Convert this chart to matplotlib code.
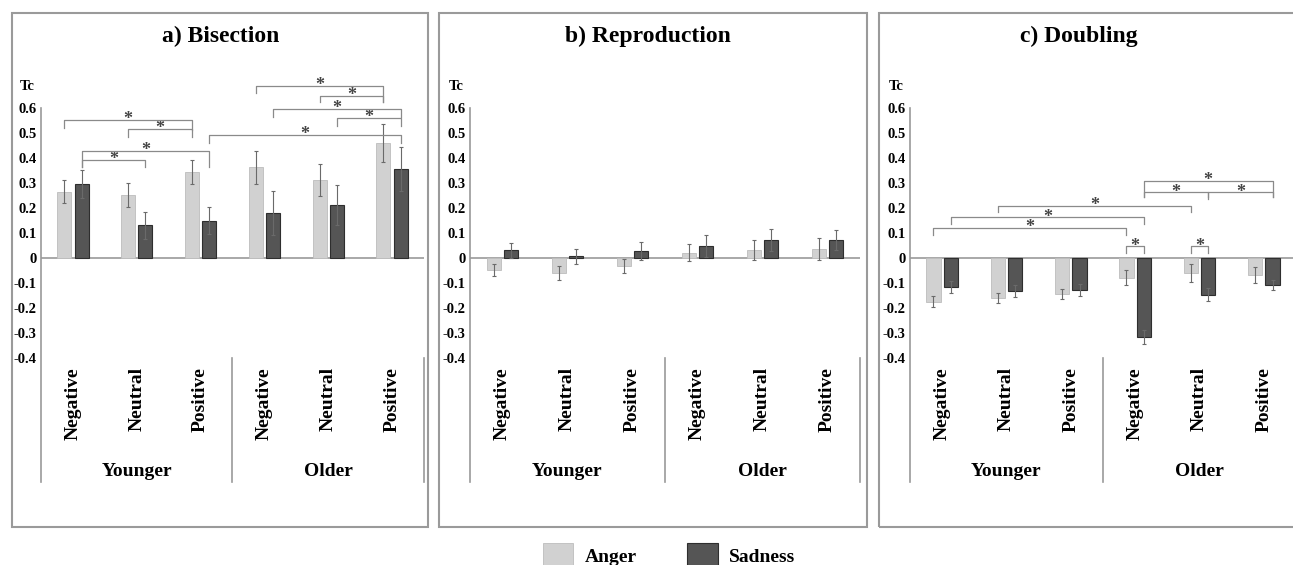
import matplotlib
matplotlib.use("Agg")
import matplotlib.pyplot as plt
from matplotlib.patches import Rectangle

plt.rcParams["font.family"] = ["Liberation Serif", "DejaVu Serif"]
plt.rcParams["font.weight"] = "bold"

W, H = 1293, 565

emotions = ["Negative", "Neutral", "Positive", "Negative", "Neutral", "Positive"]
ages = ["Younger", "Older"]
yticks = [0.6, 0.5, 0.4, 0.3, 0.2, 0.1, 0, -0.1, -0.2, -0.3, -0.4]
ytick_labels = ["0.6", "0.5", "0.4", "0.3", "0.2", "0.1", "0", "-0.1", "-0.2", "-0.3", "-0.4"]
titles = ["a) Bisection", "b) Reproduction", "c) Doubling"]

bisect_anger = [0.265, 0.252, 0.343, 0.363, 0.312, 0.459]
bisect_anger_err = [0.045, 0.047, 0.049, 0.066, 0.063, 0.076]
bisect_sad = [0.295, 0.131, 0.149, 0.181, 0.211, 0.356]
bisect_sad_err = [0.055, 0.054, 0.054, 0.088, 0.081, 0.089]

repro_anger = [-0.049, -0.060, -0.033, 0.021, 0.031, 0.034]
repro_anger_err = [0.024, 0.027, 0.027, 0.034, 0.040, 0.044]
repro_sad = [0.031, 0.007, 0.027, 0.047, 0.071, 0.071]
repro_sad_err = [0.030, 0.030, 0.035, 0.045, 0.045, 0.041]

doubl_anger = [-0.176, -0.159, -0.145, -0.079, -0.060, -0.069]
doubl_anger_err = [0.022, 0.020, 0.021, 0.031, 0.036, 0.033]
doubl_sad = [-0.116, -0.133, -0.129, -0.316, -0.147, -0.107]
doubl_sad_err = [0.024, 0.023, 0.024, 0.027, 0.026, 0.020]

# brackets: (series1, group1, series2, group2, line y, drop left, drop right)
bisect_brackets = [
    ("A", 0, "A", 2, 0.552, 0.032, 0.040),
    ("A", 1, "A", 2, 0.516, 0.031, 0.031),
    ("S", 0, "S", 2, 0.428, 0.063, 0.063),
    ("S", 0, "S", 1, 0.392, 0.027, 0.027),
    ("S", 2, "S", 5, 0.492, 0.032, 0.032),
    ("A", 3, "A", 5, 0.688, 0.028, 0.063),
    ("A", 4, "A", 5, 0.648, 0.023, 0.023),
    ("S", 3, "S", 5, 0.596, 0.031, 0.031),
    ("S", 4, "S", 5, 0.560, 0.032, 0.032),
]
repro_brackets = []
doubl_brackets = [
    ("S", 3, "S", 5, 0.308, 0.064, 0.064),
    ("S", 3, "S", 4, 0.262, 0.017, 0.027),
    ("S", 4, "S", 5, 0.262, 0.017, 0.017),
    ("A", 1, "A", 4, 0.208, 0.024, 0.024),
    ("S", 0, "S", 3, 0.162, 0.027, 0.027),
    ("A", 0, "A", 3, 0.120, 0.027, 0.027),
    ("A", 3, "S", 3, 0.047, 0.027, 0.027),
    ("A", 4, "S", 4, 0.047, 0.027, 0.027),
]

panels = [
    (bisect_anger, bisect_anger_err, bisect_sad, bisect_sad_err, bisect_brackets),
    (repro_anger, repro_anger_err, repro_sad, repro_sad_err, repro_brackets),
    (doubl_anger, doubl_anger_err, doubl_sad, doubl_sad_err, doubl_brackets),
]

# pixel layout
axes_px = [(41, 424), (470, 860), (910, 1296)]
boxes_px = [(12, 428), (439, 867), (879, 1310)]
title_x = [221, 648, 1079]
Y_TOP, Y_BOT = 108, 358
BOX_TOP, BOX_BOT = 13, 527
LINE_BOT = 482

ANGER = "#d1d1d1"
SAD = "#555555"
GREY = "#9a9a9a"
OFF = 0.135
BW = 0.22

fig = plt.figure(figsize=(W / 100, H / 100), dpi=100)

for i, (anger, anger_err, sad, sad_err, brackets) in enumerate(panels):
    x0, x1 = axes_px[i]
    ax = fig.add_axes([x0 / W, 1 - Y_BOT / H, (x1 - x0) / W, (Y_BOT - Y_TOP) / H])
    ax.set_xlim(-0.5, 5.5)
    ax.set_ylim(-0.4, 0.6)
    for s in ax.spines.values():
        s.set_visible(False)
    ax.set_xticks([])
    ax.set_yticks(yticks)
    ax.set_yticklabels(ytick_labels)
    ax.tick_params(axis="y", length=0, pad=3, labelsize=10.5)

    xs = list(range(len(emotions)))
    xa = [x - OFF for x in xs]
    xsd = [x + OFF for x in xs]
    ba = ax.bar(xa, anger, BW, color=ANGER, edgecolor="#bdbdbd", linewidth=0.6, zorder=2)
    bs = ax.bar(xsd, sad, BW, color=SAD, edgecolor="#2e2e2e", linewidth=0.8, zorder=2)
    ax.errorbar(xa, anger, yerr=anger_err, fmt="none", ecolor="#6a6a6a",
                elinewidth=0.8, capsize=1.5, capthick=0.8, zorder=3)
    ax.errorbar(xsd, sad, yerr=sad_err, fmt="none", ecolor="#6a6a6a",
                elinewidth=0.8, capsize=1.5, capthick=0.8, zorder=3)
    if i == 0:
        handles = [ba, bs]

    ax.axhline(0, color=GREY, lw=1.2, zorder=1)

    # axis lines below the plot
    ybot = -(LINE_BOT - Y_BOT) / (Y_BOT - Y_TOP)
    tr = ax.get_xaxis_transform()
    ax.plot([0, 0], [1, ybot], transform=ax.transAxes, color=GREY, lw=1.2, clip_on=False)
    for xv in (2.5, 5.5):
        ax.plot([xv, xv], [0, ybot], transform=tr, color=GREY, lw=1.2, clip_on=False)

    lab_y = -(367 - Y_BOT) / (Y_BOT - Y_TOP)
    for x, lab in zip(xs, emotions):
        ax.text(x, lab_y, lab, transform=tr, rotation=90, ha="center", va="top",
                fontsize=14, fontweight="bold")
    grp_y = -(472 - Y_BOT) / (Y_BOT - Y_TOP)
    for j, lab in enumerate(ages):
        ax.text(1 + 3 * j, grp_y, lab, transform=tr, ha="center", va="center",
                fontsize=14, fontweight="bold")

    # significance brackets
    for s1, g1, s2, g2, yb, d1, d2 in brackets:
        bx1 = g1 - OFF if s1 == "A" else g1 + OFF
        bx2 = g2 - OFF if s2 == "A" else g2 + OFF
        ax.plot([bx1, bx1, bx2, bx2], [yb - d1, yb, yb, yb - d2], color="#8a8a8a",
                lw=0.9, clip_on=False, zorder=4)
        ax.annotate("*", xy=((bx1 + bx2) / 2, yb), xytext=(0, -6),
                    textcoords="offset points", ha="center", va="bottom",
                    fontsize=13, color="#444444", annotation_clip=False)

    # Tc label and title
    fig.text((x0 - 21) / W, 1 - 87 / H, "Tc", ha="left", va="center",
             fontsize=10.5, fontweight="bold")
    fig.text(title_x[i] / W, 1 - 36 / H, titles[i], ha="center", va="center",
             fontsize=17, fontweight="bold")

    # panel frame
    bx0, bx1p = boxes_px[i]
    fig.patches.append(Rectangle((bx0 / W, 1 - BOX_BOT / H), (bx1p - bx0) / W,
                                 (BOX_BOT - BOX_TOP) / H, transform=fig.transFigure,
                                 fill=False, edgecolor=GREY, lw=1.5))

fig.legend(handles, ["Anger", "Sadness"], loc="upper left",
           bbox_to_anchor=(543 / W, 1 - 543 / H), ncol=2, frameon=False,
           handlelength=1.55, handleheight=1.55, handletextpad=0.6,
           columnspacing=2.6, borderpad=0, borderaxespad=0,
           prop={"weight": "bold", "size": 14})

fig.savefig("out.png", dpi=100)
